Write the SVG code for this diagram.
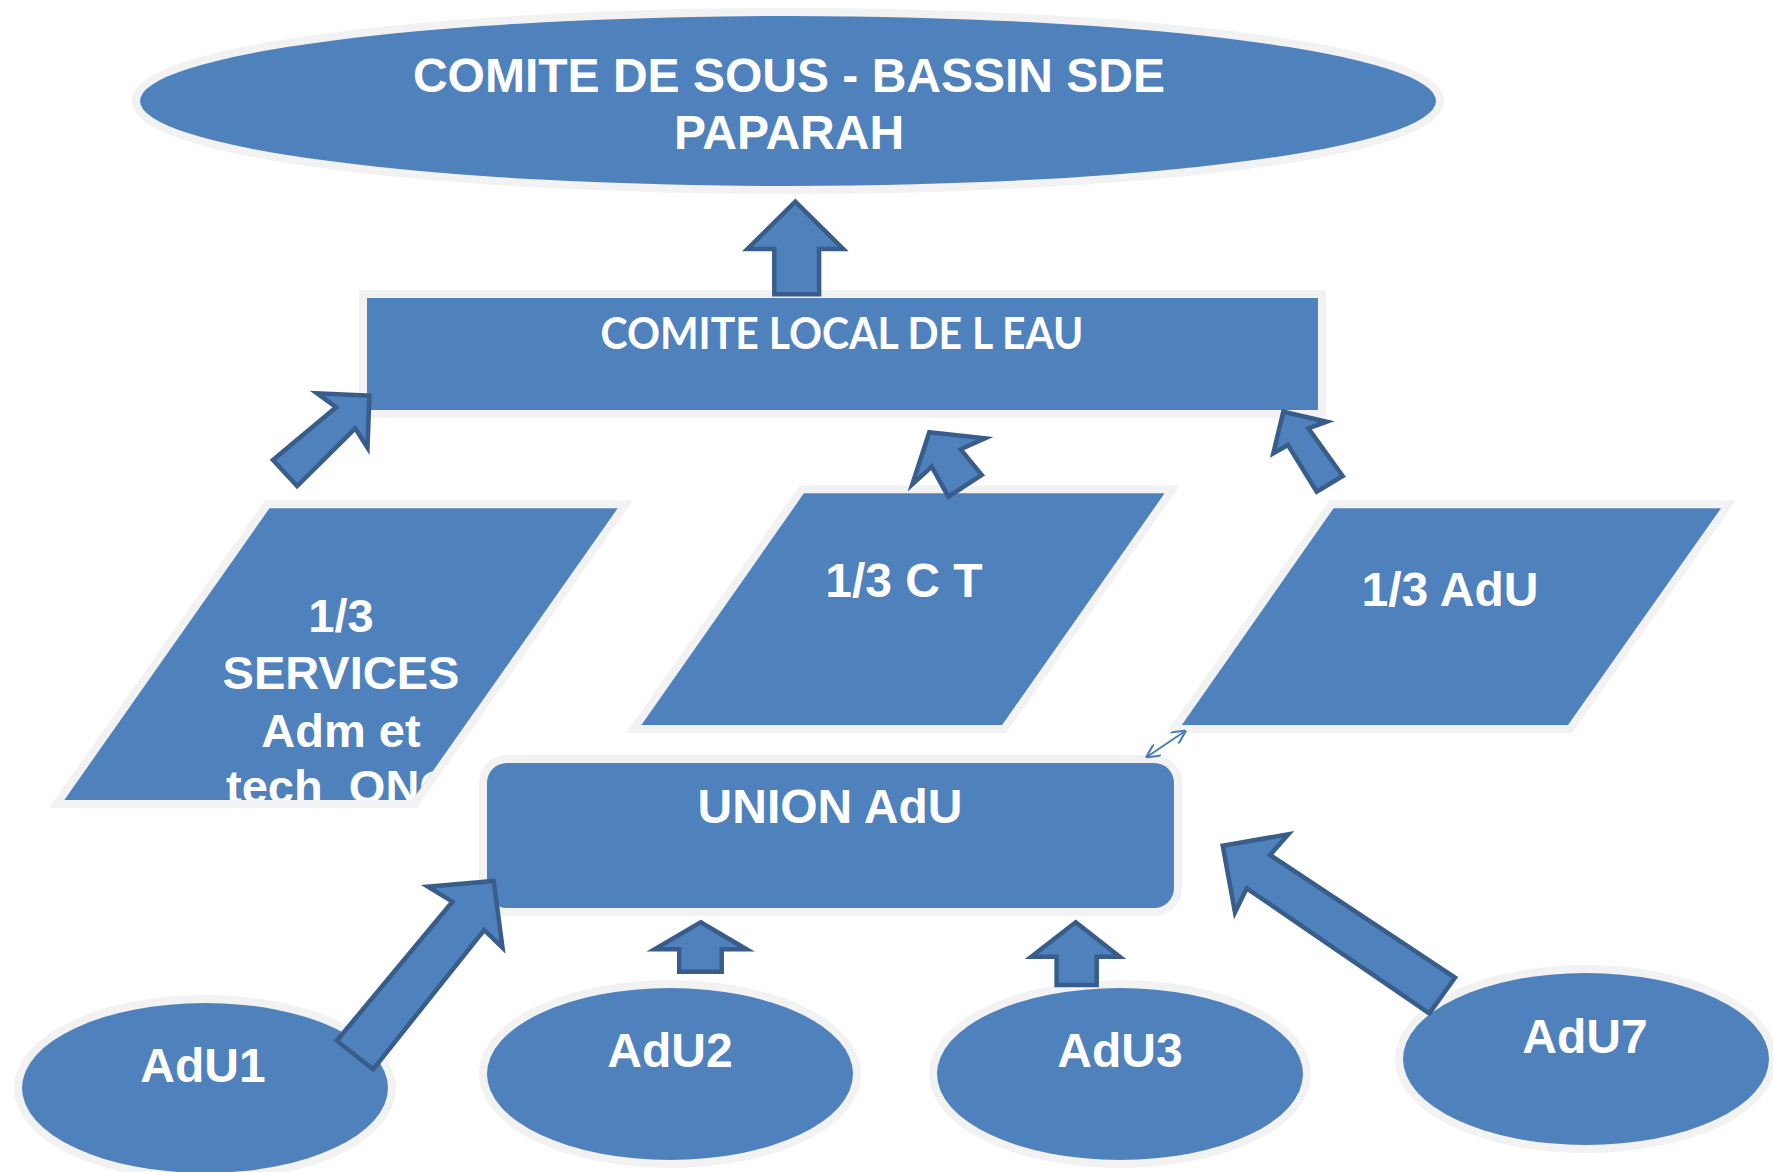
<svg xmlns="http://www.w3.org/2000/svg" width="1773" height="1172" viewBox="0 0 1773 1172">
<style>
.node{fill:#4F81BD;stroke:#F2F2F2;stroke-width:16;paint-order:stroke;stroke-linejoin:miter}
.t{font-family:"Liberation Sans",Arial,sans-serif;font-weight:bold;font-size:48px;fill:#FFFFFF;text-anchor:middle}
.arr{fill:#4F81BD;stroke:#385D8A;stroke-width:4.5;stroke-linejoin:miter}
.thin{fill:none;stroke:#4A7EBB;stroke-width:2}
</style>
<defs>
<marker id="open" viewBox="0 0 10 10" refX="10" refY="5" markerWidth="14" markerHeight="14" markerUnits="userSpaceOnUse" orient="auto-start-reverse">
<path d="M0,0 L10,5 L0,10" fill="none" stroke="#4A7EBB" stroke-width="1.5"/>
</marker>
<clipPath id="clipP1"><polygon points="269.5,508.3 617.7,508.3 412.5,800 64.3,800"/></clipPath>
</defs>
<rect width="1773" height="1172" fill="#FFFFFF"/>
<g id="comite-sous-bassin">
<ellipse class="node" cx="788" cy="101" rx="648" ry="85"/>
<text class="t" x="789" y="92">COMITE DE SOUS - BASSIN SDE</text>
<text class="t" x="789" y="149">PAPARAH</text>
</g>
<g id="comite-local">
<rect class="node" x="367" y="298" width="951" height="112"/>
<text x="842" y="349" font-family="Lato,'Open Sans',sans-serif" font-weight="bold" font-size="43" fill="#FFFFFF" text-anchor="middle" textLength="483" lengthAdjust="spacingAndGlyphs">COMITE LOCAL DE L EAU</text>
</g>
<g id="tiers-services">
<polygon class="node" points="269.5,508.3 617.7,508.3 412.5,800 64.3,800"/>
<g clip-path="url(#clipP1)">
<text class="t" style="font-size:47px" x="341" y="632">1/3</text>
<text class="t" style="font-size:47px" x="341" y="689">SERVICES</text>
<text class="t" style="font-size:47px" x="341" y="747">Adm et</text>
<text class="t" style="font-size:47px" x="341" y="803" xml:space="preserve">tech  ONG</text>
</g>
</g>
<g id="tiers-ct">
<polygon class="node" points="803.9,493.3 1164.6,493.3 1002.1,725 641.4,725"/>
<text class="t" x="904" y="597">1/3 C T</text>
</g>
<g id="tiers-adu">
<polygon class="node" points="1333.6,508.3 1721,508.3 1568,725 1181.8,725"/>
<text class="t" x="1450" y="606">1/3 AdU</text>
</g>
<g id="union-adu">
<rect class="node" x="487" y="763" width="687" height="145" rx="20" ry="20"/>
<text class="t" x="830" y="823">UNION AdU</text>
</g>
<g id="adu1">
<ellipse class="node" cx="205" cy="1088" rx="183" ry="85"/>
<text class="t" x="203" y="1082">AdU1</text>
</g>
<g id="adu2">
<ellipse class="node" cx="670" cy="1074" rx="183" ry="86"/>
<text class="t" x="670" y="1067">AdU2</text>
</g>
<g id="adu3">
<ellipse class="node" cx="1120" cy="1074" rx="183" ry="86"/>
<text class="t" x="1120" y="1067">AdU3</text>
</g>
<g id="adu7">
<ellipse class="node" cx="1586" cy="1059" rx="183" ry="86"/>
<text class="t" x="1585" y="1053">AdU7</text>
</g>
<g id="connectors">
<polygon class="arr" points="795.3,201.7 843.2,249 819.1,249 819.1,294.3 774.3,294.3 774.3,249 747.5,249"/>
<polygon class="arr" points="369.4,395.7 367.5,447.7 355.2,428.3 297.1,486 273,460 336.1,407.3 317,393.3"/>
<polygon class="arr" points="929.3,432.3 985,438.3 960.7,449.3 981.7,475 948.3,496.7 931.7,466.7 912.3,484.3"/>
<polygon class="arr" points="1283.3,411.7 1326.7,421.7 1308.3,428.3 1342.7,476 1316.7,491.7 1288,445 1273.3,453.3"/>
<polygon class="arr" points="493.7,881 502.5,947.7 484.1,930 373.1,1069.3 336.8,1040.7 452.4,901.7 427.9,886.7"/>
<polygon class="arr" points="700.6,922.3 746.6,949.3 721.7,949.3 721.7,971.7 679.2,971.7 679.2,949.3 654.7,949.3"/>
<polygon class="arr" points="1075.7,922.3 1119.7,956.7 1096.7,956.7 1096.7,985 1056.6,985 1056.6,956.7 1031.3,956.7"/>
<polygon class="arr" points="1222.7,845.7 1288.3,834.3 1270,855 1455,977.7 1429.3,1013.3 1246.7,888.3 1235,912.3"/>
<line class="thin" x1="1146" y1="757.5" x2="1186" y2="730.5" marker-start="url(#open)" marker-end="url(#open)"/>
</g>
</svg>
